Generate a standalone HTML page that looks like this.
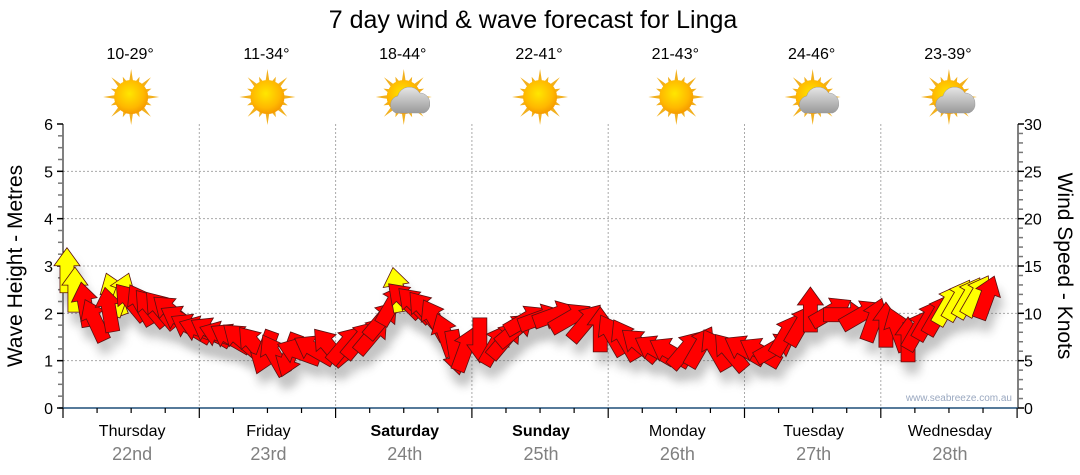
<!DOCTYPE html>
<html><head><meta charset="utf-8"><style>
html,body{margin:0;padding:0;background:#fff;}
svg{display:block;font-family:"Liberation Sans","DejaVu Sans",sans-serif;}
</style></head><body>
<svg id="chart" width="1080" height="475" viewBox="0 0 1080 475" xmlns="http://www.w3.org/2000/svg">
<defs>
<radialGradient id="sunG" cx="45%" cy="40%" r="60%"><stop offset="0" stop-color="#ffe600"/><stop offset="0.7" stop-color="#ffb800"/><stop offset="1" stop-color="#f59a00"/></radialGradient>
<linearGradient id="cloudG" x1="0" y1="0" x2="0" y2="1"><stop offset="0" stop-color="#e6e6e6"/><stop offset="1" stop-color="#9a9a9a"/></linearGradient>
<filter id="shadow" x="-50%" y="-50%" width="200%" height="200%"><feGaussianBlur stdDeviation="5"/></filter>
</defs>
<text x="533" y="28" font-size="25" text-anchor="middle" fill="#000">7 day wind &amp; wave forecast for Linga</text>
<g id="icons"></g>
<g id="grid"></g>
<g id="axes"></g>
<g id="shadows" opacity="0.35"></g>
<g id="arrows"></g>
<text transform="translate(22,266) rotate(-90)" font-size="21" text-anchor="middle">Wave Height - Metres</text>
<text transform="translate(1058,266) rotate(90)" font-size="21" text-anchor="middle">Wind Speed - Knots</text>
<text x="1012" y="401" font-size="10" text-anchor="end" fill="#9aa8c0">www.seabreeze.com.au</text>
</svg>
<script>
const days = ["Thursday","Friday","Saturday","Sunday","Monday","Tuesday","Wednesday"];
const dates = ["22nd","23rd","24th","25th","26th","27th","28th"];
const boldDays = [false,false,true,true,false,false,false];
const temps = ["10-29°","11-34°","18-44°","22-41°","21-43°","24-46°","23-39°"];
const cloudy = [false,false,true,false,false,true,true];
const waveTicks = [0,1,2,3,4,5,6];
const windTicks = [0,5,10,15,20,25,30];
// time in hours from start, wave height (m), arrow direction (deg, 0=up), colour
const hours = [0.7,2.1,3.9,5.6,9.0,10.2,8.1,12.0,13.8,15.5,17.3,19.1,20.8,22.6,24.3,26.1,27.9,29.6,31.4,33.7,35.5,37.2,39.9,41.6,44.3,46.9,49.6,52.2,54.4,56.1,57.9,58.8,60.2,62.0,63.7,65.5,67.3,69.1,70.8,73.4,76.1,77.8,79.6,81.4,84.0,86.6,89.3,92.0,94.6,96.7,99.0,101.6,104.3,106.9,109.6,112.2,114.9,117.5,120.1,122.8,125.4,127.2,129.9,131.6,135.2,137.8,140.5,142.8,144.9,147.0,148.8,150.5,152.3,154.1,155.8,157.6,159.4,160.9,162.6];
const heights = [2.9,2.49,2.18,1.85,2.39,2.39,2.07,2.24,2.18,2.11,2.07,2.03,1.86,1.69,1.65,1.61,1.54,1.48,1.44,1.33,1.18,1.12,1.12,1.18,1.23,1.29,1.33,1.44,1.54,1.86,2.18,2.49,2.28,2.18,2.07,1.86,1.54,1.18,1.23,1.44,1.33,1.44,1.65,1.86,1.90,1.97,1.90,1.80,1.65,1.54,1.44,1.33,1.23,1.18,1.23,1.29,1.23,1.18,1.23,1.18,1.27,1.54,1.75,2.07,2.03,1.97,1.97,1.86,1.75,1.65,1.44,1.65,1.86,1.97,2.18,2.28,2.33,2.37,2.33,2.07,2.28];
const dirs = [0,0,350,335,340,20,350,320,330,320,320,310,300,300,290,300,290,300,310,320,200,330,200,290,300,320,40,40,40,40,30,350,315,315,320,330,340,170,20,180,30,40,50,60,70,70,60,40,0,330,330,310,300,300,40,30,330,320,300,300,60,30,30,0,60,90,60,20,0,340,0,30,30,30,30,30,30,30,20,0,0];
const colors = ["Y","Y","R","R","Y","Y","R","R","R","R","R","R","R","R","R","R","R","R","R","R","R","R","R","R","R","R","R","R","R","R","R","Y","R","R","R","R","R","R","R","R","R","R","R","R","R","R","R","R","R","R","R","R","R","R","R","R","R","R","R","R","R","R","R","R","R","R","R","R","R","R","R","R","R","R","Y","Y","Y","Y","R","Y","Y"];

const NS="http://www.w3.org/2000/svg";
const X0=63,X1=1018,Y0=408,Y1=124,DAYW=136.3;
function xs(h){return X0+h/24*DAYW;}
function yL(m){return Y0-(m/6)*(Y0-Y1);}
function yR(k){return Y0-(k/30)*(Y0-Y1);}
function mk(tag,attrs,parent){const e=document.createElementNS(NS,tag);for(const k in attrs)e.setAttribute(k,attrs[k]);parent.appendChild(e);return e;}
const grid=document.getElementById('grid'),axes=document.getElementById('axes'),icons=document.getElementById('icons');

for(const t of waveTicks){ if(t===0||t===6)continue;
  const g=mk('line',{x1:X0,x2:X1,y1:yL(t),y2:yL(t),stroke:'#aaa','stroke-dasharray':'2,2'},grid);
  
  
}
for(let d=1;d<7;d++){
  const g=mk('line',{x1:xs(d*24),x2:xs(d*24),y1:Y1,y2:Y0,stroke:'#aaa','stroke-dasharray':'2,2'},grid);
  
  
}
mk('line',{x1:X0,x2:X0,y1:Y1,y2:Y0,stroke:'#000'},axes);
mk('line',{x1:X1,x2:X1,y1:Y1,y2:Y0,stroke:'#000'},axes);
mk('line',{x1:X0-4,x2:X1,y1:Y0,y2:Y0,stroke:'#1f4e79','stroke-width':1.5},axes);
for(let i=0;i<=24;i++){const m=i/4;const y=yL(m);
  mk('line',{x1:X0-(i%4===0?6:5),x2:X0,y1:y,y2:y,stroke:i%4===0?'#000':'#777','stroke-width':1.5},axes);}
for(const t of waveTicks){const tx=mk('text',{x:X0-10,y:yL(t)+6,'font-size':16,'text-anchor':'end'},axes);tx.textContent=t;
  
  }
for(let k=0;k<=30;k++){const y=yR(k);
  mk('line',{x1:X1,x2:X1+(k%5===0?6:5),y1:y,y2:y,stroke:k%5===0?'#000':'#777','stroke-width':1.5},axes);}
for(const t of windTicks){const tx=mk('text',{x:X1+6,y:yR(t)+6,'font-size':16},axes);tx.textContent=t;
  
  }
for(let i=0;i<=28;i++){const x=xs(i*6);
  mk('line',{x1:x,x2:x,y1:Y0,y2:Y0+(i%4===0?10:5),stroke:'#000','stroke-width':1.2},axes);}
days.forEach((d,i)=>{const cx=xs(i*24+12)+1;
  const t=mk('text',{x:cx,y:436,'font-size':16,'text-anchor':'middle','font-weight':boldDays[i]?'bold':'normal'},axes);t.textContent=d;
  
  
  const t2=mk('text',{x:cx,y:460,'font-size':18,'text-anchor':'middle',fill:'#808080'},axes);t2.textContent=dates[i];
  
  
  const t3=mk('text',{x:cx-2,y:59,'font-size':16,'text-anchor':'middle'},icons);t3.textContent=temps[i];
  
  
  const g=mk('g',{transform:`translate(${cx-1},${97})`},icons);
  
  
  let rays='';for(let r=0;r<16;r++){const a=r*Math.PI/8,L=r%2?22:28,w=0.12;
    rays+=`M${(Math.sin(a-w)*16).toFixed(1)},${(-Math.cos(a-w)*16).toFixed(1)}L${(Math.sin(a)*L).toFixed(1)},${(-Math.cos(a)*L).toFixed(1)}L${(Math.sin(a+w)*16).toFixed(1)},${(-Math.cos(a+w)*16).toFixed(1)}Z`;}
  mk('path',{d:rays,fill:'#f2b01e'},g);
  mk('circle',{r:17,fill:'url(#sunG)'},g);
  if(cloudy[i]){mk('path',{d:'M-8,16 a9,9 0 0 1 2,-17 a12,12 0 0 1 22,-3 a10,10 0 0 1 10,10 a9,9 0 0 1 -6,10 Z',fill:'url(#cloudG)',stroke:'#999','stroke-width':0.5},g);}
});

const arrows=document.getElementById('arrows'),shadows=document.getElementById('shadows');
const AP='M0,-23 L13,-5 L7,-5 L7,22 L-7,22 L-7,-5 L-13,-5 Z';
hours.forEach((h,i)=>{
  const x=xs(h),y=yL(heights[i]);
  const s=mk('path',{d:AP,transform:`translate(${x+4},${y+12}) rotate(${dirs[i]})`,fill:'#555',filter:'url(#shadow)'},shadows);
  
  
  const a=mk('path',{d:AP,transform:`translate(${x},${y}) rotate(${dirs[i]})`,fill:colors[i]==='Y'?'#ffff00':'#ff0000',stroke:'#5a1010','stroke-width':0.8},arrows);
  
  
});
</script>
</body></html>
